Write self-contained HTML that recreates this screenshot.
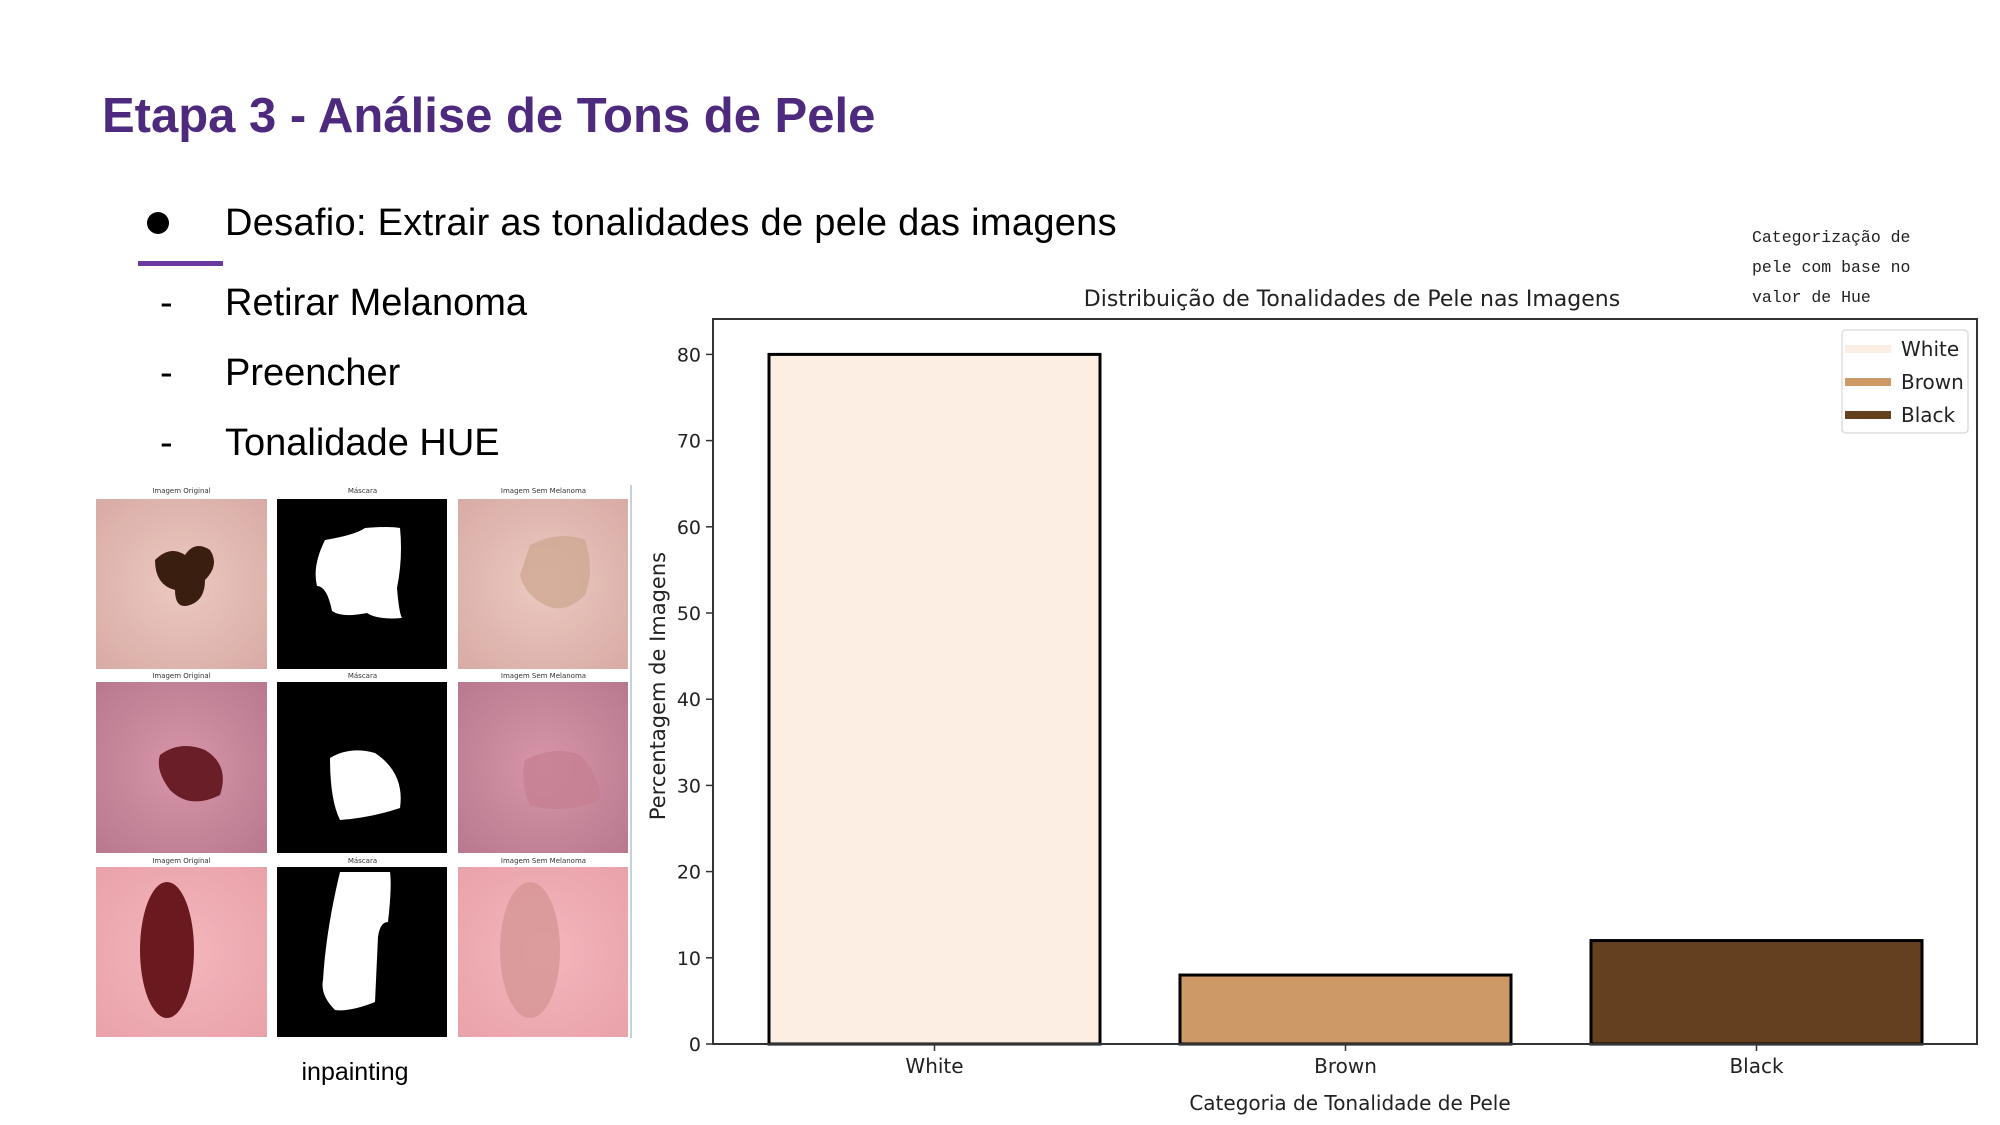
<!DOCTYPE html>
<html><head><meta charset="utf-8">
<style>
body{margin:0;width:2000px;height:1125px;background:#fff;position:relative;overflow:hidden;font-family:"Liberation Sans",sans-serif}
.abs{position:absolute}
.cap{position:absolute;font-size:7px;color:#333;text-align:center;width:171px;font-family:"DejaVu Sans",sans-serif}
</style></head><body>
<div class="abs" style="left:102px;top:88px;font-size:49px;font-weight:bold;color:#4e2a7e;letter-spacing:0px">Etapa 3 - Análise de Tons de Pele</div>
<div class="abs" style="left:147px;top:212px;width:22px;height:22px;border-radius:50%;background:#000"></div>
<div class="abs" style="left:225px;top:202px;font-size:38px;color:#000;letter-spacing:0.3px">Desafio: Extrair as tonalidades de pele das imagens</div>
<div class="abs" style="left:138px;top:261px;width:85px;height:5px;background:#6a3a9e"></div>
<div class="abs" style="left:160px;top:282px;font-size:38px">-<span style="position:absolute;left:65px;white-space:nowrap">Retirar Melanoma</span></div>
<div class="abs" style="left:160px;top:352px;font-size:38px">-<span style="position:absolute;left:65px;white-space:nowrap">Preencher</span></div>
<div class="abs" style="left:160px;top:422px;font-size:38px">-<span style="position:absolute;left:65px;white-space:nowrap">Tonalidade HUE</span></div>

<svg class="abs" style="left:0;top:0" width="2000" height="1125">
<defs>
<radialGradient id="s1" cx="50%" cy="50%" r="70%"><stop offset="0" stop-color="#ecc9c0"/><stop offset="1" stop-color="#d8aba5"/></radialGradient>
<radialGradient id="s2" cx="50%" cy="50%" r="70%"><stop offset="0" stop-color="#d796a8"/><stop offset="1" stop-color="#b8788e"/></radialGradient>
<radialGradient id="s3" cx="50%" cy="50%" r="70%"><stop offset="0" stop-color="#f3b6bc"/><stop offset="1" stop-color="#e9a2aa"/></radialGradient>
</defs>
<rect x="96" y="499" width="171" height="170" fill="url(#s1)"/>
<path d="M155,560 q15,-15 30,-5 q10,-15 25,-5 q10,15 -5,30 q0,20 -15,25 q-15,5 -15,-15 q-20,-5 -20,-30z" fill="#3a1e10"/>
<rect x="277" y="499" width="170" height="170" fill="#000"/>
<path d="M325,540 q30,-5 40,-12 q25,-2 35,0 q3,30 -3,60 q2,25 5,30 q-25,2 -35,-5 q-25,5 -35,-2 q-5,-25 -15,-25 q-5,-20 8,-46z" fill="#fff"/>
<rect x="458" y="499" width="170" height="170" fill="url(#s1)"/>
<path d="M530,545 q30,-15 55,-5 q10,30 0,55 q-20,20 -40,10 q-20,-10 -25,-30z" fill="#cfa793" opacity=".8"/>
<rect x="96" y="682" width="171" height="171" fill="url(#s2)"/>
<path d="M160,755 q20,-15 45,-5 q25,15 15,45 q-30,15 -50,-5 q-15,-20 -10,-35z" fill="#6a1f28"/>
<rect x="277" y="682" width="170" height="171" fill="#000"/>
<path d="M330,758 q20,-12 45,-5 q30,20 25,55 q-30,10 -60,12 q-10,-20 -10,-62z" fill="#fff"/>
<rect x="458" y="682" width="170" height="171" fill="url(#s2)"/>
<path d="M525,760 q30,-15 55,-5 q20,20 20,45 q-40,15 -70,5 q-10,-20 -5,-45z" fill="#c57f92" opacity=".8"/>
<rect x="96" y="867" width="171" height="170" fill="url(#s3)"/>
<ellipse cx="167" cy="950" rx="27" ry="68" fill="#6a1a1e"/>
<rect x="277" y="867" width="170" height="170" fill="#000"/>
<path d="M340,872 l50,0 q2,15 -2,50 q-8,0 -10,15 l-3,65 q-25,10 -40,8 q-15,-15 -12,-30 q3,-50 17,-108z" fill="#fff"/>
<rect x="458" y="867" width="170" height="170" fill="url(#s3)"/>
<ellipse cx="530" cy="950" rx="30" ry="68" fill="#d69595" opacity=".8"/>
<line x1="631" y1="485" x2="631" y2="1038" stroke="#c8d0dc" stroke-width="2"/>
</svg>
<div class="cap" style="left:96px;top:487px">Imagem Original</div><div class="cap" style="left:277px;top:487px">Máscara</div><div class="cap" style="left:458px;top:487px">Imagem Sem Melanoma</div>
<div class="cap" style="left:96px;top:672px">Imagem Original</div><div class="cap" style="left:277px;top:672px">Máscara</div><div class="cap" style="left:458px;top:672px">Imagem Sem Melanoma</div>
<div class="cap" style="left:96px;top:857px">Imagem Original</div><div class="cap" style="left:277px;top:857px">Máscara</div><div class="cap" style="left:458px;top:857px">Imagem Sem Melanoma</div>
<div class="abs" style="left:255px;top:1058px;width:200px;text-align:center;font-size:25px">inpainting</div>

<div class="abs" style="left:1752px;top:223px;font-family:'Liberation Mono',monospace;font-size:16.5px;line-height:30px;color:#222;white-space:pre">Categorização de
pele com base no
valor de Hue</div>

<svg id="chart" class="abs" style="left:0;top:0" width="2000" height="1125"></svg>
<script>
const categories=["White","Brown","Black"];
const values=[80,8,12];
const colors=["#fdeee4","#cd9966","#65401f"];
const yTicks=[0,10,20,30,40,50,60,70,80];
const NS="http://www.w3.org/2000/svg";
const svg=document.getElementById('chart');
const L=713,R=1977,T=319,B=1044,unit=8.62;
const y=v=>B-v*unit;
const step=411, x0=934.5;
const x=i=>x0+i*step;
function mk(t,a,txt){const e=document.createElementNS(NS,t);for(const k in a)e.setAttribute(k,a[k]);if(txt!==undefined)e.textContent=txt;svg.appendChild(e);return e;}
const f="'DejaVu Sans',sans-serif";
let t=mk('text',{x:1352,y:306,'text-anchor':'middle','font-family':f,'font-size':22,fill:'#222'},'Distribuição de Tonalidades de Pele nas Imagens');


categories.forEach((c,i)=>{
  const b=mk('rect',{x:x(i)-165.5,y:y(values[i]),width:331,height:B-y(values[i]),fill:colors[i],stroke:'#000','stroke-width':3});
  
  
  mk('line',{x1:x(i),x2:x(i),y1:B,y2:B+7,stroke:'#333','stroke-width':1.5});
  const l=mk('text',{x:x(i),y:B+29,'text-anchor':'middle','font-family':f,'font-size':20,fill:'#222'},c);
  
  
});
yTicks.forEach(v=>{
  mk('line',{x1:L-7,x2:L,y1:y(v),y2:y(v),stroke:'#333','stroke-width':1.5});
  const l=mk('text',{x:L-12,y:y(v)+7,'text-anchor':'end','font-family':f,'font-size':19,fill:'#222'},v);
  
  
});
const fr=mk('rect',{x:L,y:T,width:R-L,height:B-T,fill:'none',stroke:'#333','stroke-width':2});


t=mk('text',{x:1350,y:1110,'text-anchor':'middle','font-family':f,'font-size':20,fill:'#222'},'Categoria de Tonalidade de Pele');


t=mk('text',{x:0,y:0,'text-anchor':'middle','font-family':f,'font-size':21,fill:'#222',transform:'translate(665,686) rotate(-90)'},'Percentagem de Imagens');


const lg=mk('rect',{x:1842,y:330,width:126,height:103,rx:4,fill:'#fff',stroke:'#ddd','stroke-width':1.5});


categories.forEach((c,i)=>{
  const yy=349+i*33;
  mk('rect',{x:1845,y:yy-4,width:46,height:8,fill:colors[i]});
  const l=mk('text',{x:1901,y:yy+7,'font-family':f,'font-size':20,fill:'#222'},c);
  
  
});
</script>
</body></html>
